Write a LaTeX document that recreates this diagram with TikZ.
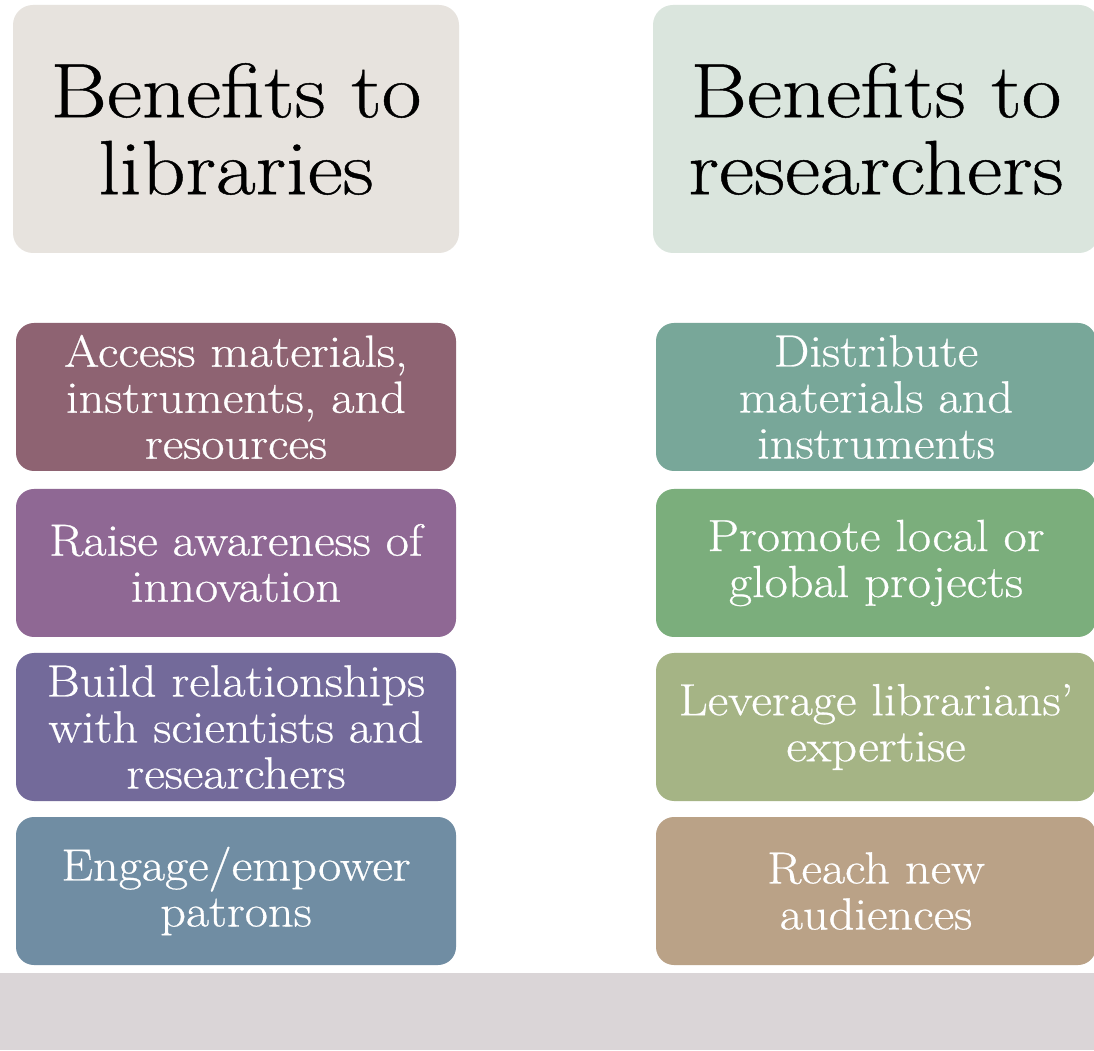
\documentclass[tikz,border=0pt]{standalone}
\usepackage{fontspec}
\setmainfont[FakeStretch=1.12,FakeBold=0.6]{Latin Modern Roman}
\definecolor{hdrL}{HTML}{E7E3DE}
\definecolor{hdrR}{HTML}{DAE5DD}
\definecolor{cAccess}{HTML}{8E6372}
\definecolor{cRaise}{HTML}{8F6894}
\definecolor{cBuild}{HTML}{736A9A}
\definecolor{cEngage}{HTML}{708DA3}
\definecolor{cDistr}{HTML}{78A799}
\definecolor{cPromo}{HTML}{7BAE7C}
\definecolor{cLever}{HTML}{A5B485}
\definecolor{cReach}{HTML}{BAA287}
\definecolor{band}{HTML}{DAD5D7}
\begin{document}
\begin{tikzpicture}[x=1pt,y=1pt,
  hdr/.style={rounded corners=20pt, minimum width=446pt, minimum height=248pt,
    inner sep=0pt, text width=444pt, align=center, text=black,
    font=\fontsize{77}{77}\selectfont},
  item/.style={rounded corners=18pt, minimum width=440pt, minimum height=148pt,
    inner sep=0pt, text width=436pt, align=center, text=white,
    font=\fontsize{45}{46}\selectfont}]
\useasboundingbox (0,0) rectangle (1094,1050);
\clip (0,0) rectangle (1094,1050);
\fill[white] (0,0) rectangle (1094,1050);
\node[hdr, fill=hdrL] (hl) at (236,921) {Benefits to\\libraries};
\node[hdr, fill=hdrR] (hr) at (876,921) {Benefits to\\researchers};
\node[item, fill=cAccess] (a1) at (236,653) {Access materials,\\instruments, and\\resources};
\node[item, fill=cRaise] (a2) at (236,487) {Raise awareness of\\innovation};
\node[item, fill=cBuild] (a3) at (236,323) {Build relationships\\with scientists and\\researchers};
\node[item, fill=cEngage] (a4) at (236,159) {Engage/empower\\patrons};
\node[item, fill=cDistr] (b1) at (876,653) {Distribute\\materials and\\instruments};
\node[item, fill=cPromo] (b2) at (876,487) {Promote local or\\global projects};
\node[item, fill=cLever] (b3) at (876,323) {Leverage librarians’\\expertise};
\node[item, fill=cReach] (b4) at (876,159) {Reach new\\audiences};
\fill[band] (0,0) rectangle (1094,77);
\end{tikzpicture}
\end{document}
